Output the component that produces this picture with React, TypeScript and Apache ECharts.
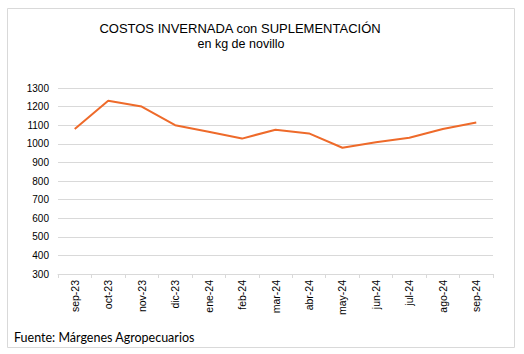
import React, { useEffect, useRef } from "react";
import * as echarts from "echarts";

const categories = ["sep-23", "oct-23", "nov-23", "dic-23", "ene-24", "feb-24", "mar-24", "abr-24", "may-24", "jun-24", "jul-24", "ago-24", "sep-24"];
const costos = [1080, 1232, 1200, 1100, 1065, 1028, 1076, 1056, 979, 1008, 1033, 1080, 1114];
const titleText = "COSTOS INVERNADA con SUPLEMENTACIÓN";
const subtitleText = "en kg de novillo";
const sourceText = "Fuente: Márgenes Agropecuarios";

export default function App() {
  const ref = useRef<HTMLDivElement>(null);
  useEffect(() => {
    if (!ref.current) return;
    const chart = echarts.init(ref.current, undefined, { renderer: "svg" });
    chart.setOption({
      animation: false,
      backgroundColor: "#ffffff",
      grid: { left: 58, right: 31, top: 88, bottom: 80 },
      xAxis: {
        type: "category",
        data: categories,
        axisLine: { lineStyle: { color: "#d9d9d9", width: 1 } },
        axisTick: { show: true, length: 4, lineStyle: { color: "#d9d9d9" } },
        axisLabel: {
          rotate: 90,
          color: "#000",
          fontFamily: "Liberation Sans",
          fontSize: 10.5,
          margin: 6,
        },
      },
      yAxis: {
        type: "value",
        min: 300,
        max: 1300,
        interval: 100,
        axisLine: { show: false },
        axisTick: { show: false },
        splitLine: { lineStyle: { color: "#d9d9d9", width: 1 } },
        axisLabel: {
          color: "#000",
          fontFamily: "Liberation Sans",
          fontSize: 10,
          margin: 9,
          formatter: (v: number) => String(v),
        },
      },
      series: [
        {
          type: "line",
          data: costos,
          symbol: "none",
          lineStyle: { color: "#EE6A2A", width: 2 },
        },
      ],
      graphic: [
        {
          type: "rect",
          shape: { x: 7.5, y: 8.5, width: 507, height: 339 },
          style: { fill: "none", stroke: "#d9d9d9", lineWidth: 1 },
          silent: true,
        },
        {
          type: "text",
          x: 240,
          y: 28,
          style: {
            text: titleText,
            fontFamily: "Liberation Sans",
            fontSize: 13,
            fill: "#000",
            textAlign: "center",
            textVerticalAlign: "middle",
          },
        },
        {
          type: "text",
          x: 241,
          y: 44,
          style: {
            text: subtitleText,
            fontFamily: "Liberation Sans",
            fontSize: 12.5,
            fill: "#000",
            textAlign: "center",
            textVerticalAlign: "middle",
          },
        },
        {
          type: "text",
          x: 14,
          y: 337,
          style: {
            text: sourceText,
            fontFamily: "Lato",
            fontSize: 12.5,
            fill: "#000",
            textAlign: "left",
            textVerticalAlign: "middle",
          },
        },
      ],
    });
    return () => chart.dispose();
  }, []);
  return <div ref={ref} style={{ position: "fixed", left: 0, top: 0, width: 524, height: 354 }} />;
}
